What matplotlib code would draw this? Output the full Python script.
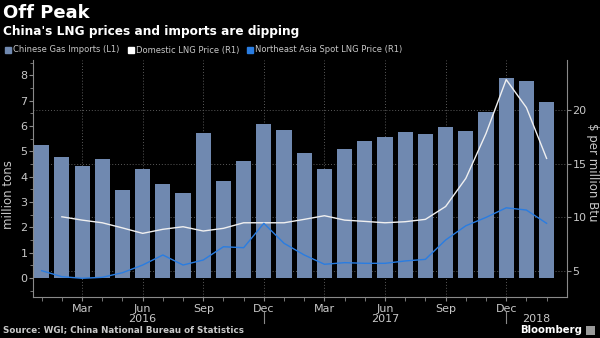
import matplotlib
matplotlib.use("Agg")
import matplotlib.pyplot as plt
from matplotlib.patches import Rectangle
import numpy as np

# ---- data ----
months = ["Jan 2016", "Feb 2016", "Mar 2016", "Apr 2016", "May 2016", "Jun 2016",
          "Jul 2016", "Aug 2016", "Sep 2016", "Oct 2016", "Nov 2016", "Dec 2016",
          "Jan 2017", "Feb 2017", "Mar 2017", "Apr 2017", "May 2017", "Jun 2017",
          "Jul 2017", "Aug 2017", "Sep 2017", "Oct 2017", "Nov 2017", "Dec 2017",
          "Jan 2018", "Feb 2018"]
imports = [5.23, 4.77, 4.43, 4.70, 3.48, 4.30, 3.72, 3.35, 5.73, 3.83, 4.62, 6.07,
           5.84, 4.93, 4.30, 5.09, 5.42, 5.56, 5.74, 5.68, 5.94, 5.81, 6.55, 7.89,
           7.76, 6.94]
domestic = [np.nan, 10.04, 9.73, 9.48, 9.00, 8.49, 8.87, 9.11, 8.71, 8.96, 9.48, 9.48,
            9.48, 9.80, 10.14, 9.73, 9.61, 9.48, 9.58, 9.80, 11.0, 13.63, 17.83, 22.87,
            20.25, 15.5]
ne_asia = [5.0, 4.44, 4.29, 4.38, 4.81, 5.53, 6.47, 5.53, 6.0, 7.24, 7.15, 9.43,
           7.56, 6.47, 5.6, 5.75, 5.69, 5.69, 5.91, 6.06, 7.87, 9.2, 9.98, 10.88,
           10.67, 9.43]
major_idx = [2, 5, 8, 11, 14, 17, 20, 23]
major_labels = ["Mar", "Jun", "Sep", "Dec", "Mar", "Jun", "Sep", "Dec"]
year_idx = [5, 17, 24.5]
year_labels = ["2016", "2017", "2018"]
year_sep_idx = [11, 23]
left_ticks = [0, 1, 2, 3, 4, 5, 6, 7, 8]
right_ticks = [5, 10, 15, 20]

BG = "black"
BAR = "#7089b0"
BLUE = "#2a7de1"
WHITE = "#f0f0f0"
TXT = "#c8c8c8"
SPINE = "#8a8a8a"
GRID = "#5a5a5a"

fig = plt.figure(figsize=(6, 3.38), dpi=100, facecolor=BG)
ax = fig.add_axes([33/600, 1-297/338, (567-33)/600, (297-60)/338])
ax.set_facecolor(BG)
x = np.arange(len(months))

L0, L1 = -0.75, 8.6
R0, R1 = 2.54, 24.7
ax.set_xlim(-0.43, 26.01)
ax.set_ylim(L0, L1)

# grid
for xi in major_idx:
    ax.axvline(xi, color=GRID, lw=0.7, ls=(0, (1, 2)), zorder=0)
for r in right_ticks:
    ly = L0 + (r - R0) * (L1 - L0) / (R1 - R0)
    ax.axhline(ly, color=GRID, lw=0.7, ls=(0, (1, 2)), zorder=0)

ax.bar(x, imports, width=0.75, color=BAR, zorder=2)

ax2 = ax.twinx()
ax2.set_ylim(R0, R1)
ax2.plot(x, domestic, color=WHITE, lw=1.0, zorder=3)
ax2.plot(x, ne_asia, color=BLUE, lw=1.0, zorder=3)

for a in (ax, ax2):
    for s in a.spines.values():
        s.set_visible(False)
ax.spines["left"].set_visible(True)
ax.spines["left"].set_color(SPINE)
ax.spines["bottom"].set_visible(True)
ax.spines["bottom"].set_color(SPINE)
ax2.spines["right"].set_visible(True)
ax2.spines["right"].set_color(SPINE)

ax.set_yticks(left_ticks)
ax.tick_params(axis="y", colors=SPINE, labelcolor=TXT, labelsize=8, length=3, pad=1, direction="out")
ax2.set_yticks(right_ticks)
ax2.tick_params(axis="y", colors=SPINE, labelcolor=TXT, labelsize=8, length=3, pad=1, direction="out")
ax.set_yticks([y + 0.5 for y in range(-1, 9)], minor=True)
ax.tick_params(axis="y", which="minor", colors=SPINE, length=2)

ax.set_xticks(major_idx)
ax.set_xticklabels(major_labels)
ax.set_xticks(x, minor=True)
ax.tick_params(axis="x", which="major", colors=SPINE, labelcolor=TXT, labelsize=8, length=3, pad=2)
ax.tick_params(axis="x", which="minor", colors=SPINE, length=3)

for xi, lab in zip(year_idx, year_labels):
    ax.text(xi, -0.092, lab, transform=ax.get_xaxis_transform(), ha="center", va="center",
            color=TXT, fontsize=8)
for xi in year_sep_idx:
    ax.plot([xi, xi], [-0.063, -0.11], transform=ax.get_xaxis_transform(), color=SPINE,
            lw=0.8, clip_on=False)

# titles
fig.text(3/600, 1-13/338, "Off Peak", color="white", fontsize=13, fontweight="bold", va="center", ha="left")
fig.text(3/600, 1-31/338, "China's LNG prices and imports are dipping", color="white",
         fontsize=8.7, fontweight="bold", va="center", ha="left")

# legend
leg = [("Chinese Gas Imports (L1)", BAR, 5), ("Domestic LNG Price (R1)", "white", 128),
       ("Northeast Asia Spot LNG Price (R1)", BLUE, 247)]
for lab, col, px in leg:
    fig.patches.append(Rectangle((px/600, 1-53/338), 6/600, 6/338, transform=fig.transFigure,
                                 color=col))
    fig.text((px+8)/600, 1-50/338, lab, color=TXT, fontsize=6.0, va="center", ha="left")

fig.text(9/600, 1-195/338, "million tons", color=TXT, fontsize=8.5, rotation=90, ha="center", va="center")
fig.text(592/600, 1-172/338, "$ per million Btu", color=TXT, fontsize=8.5, rotation=270, ha="center", va="center")

fig.text(3/600, 1-330/338, "Source: WGI; China National Bureau of Statistics", color=TXT,
         fontsize=6.3, fontweight="bold", va="center", ha="left")
fig.text(582/600, 1-330/338, "Bloomberg", color="white", fontsize=7.3, fontweight="bold",
         va="center", ha="right")
fig.patches.append(Rectangle((586/600, 1-335/338), 9/600, 9/338, transform=fig.transFigure,
                             facecolor="#9a9a9a", edgecolor="none"))

fig.savefig("out.png", dpi=100, facecolor=BG)
